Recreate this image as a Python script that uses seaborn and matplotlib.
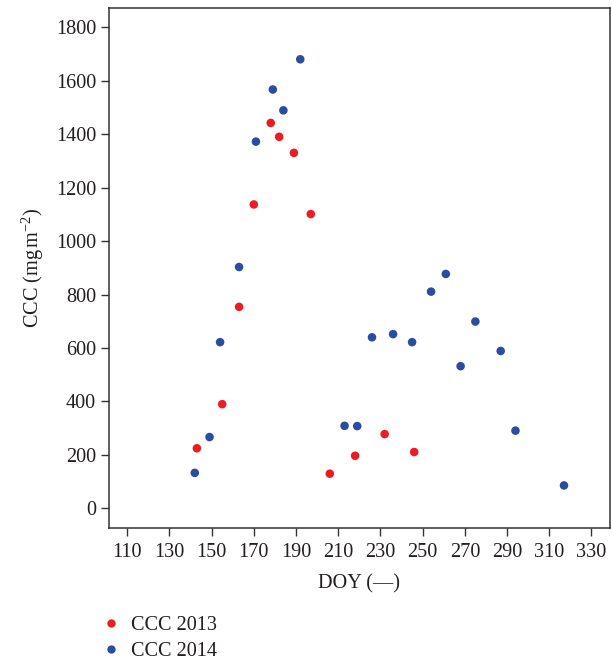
import matplotlib
matplotlib.use("Agg")
import matplotlib.pyplot as plt
import seaborn as sns
import pandas as pd
from matplotlib.lines import Line2D

# Data
doy_2013 = [143, 155, 163, 170, 178, 182, 189, 197, 206, 218, 232, 246]
ccc_2013 = [225, 390, 754, 1137, 1442, 1390, 1330, 1101, 130, 197, 278, 211]
doy_2014 = [142, 149, 154, 163, 171, 179, 184, 192, 213, 219, 226, 236, 245,
            254, 261, 268, 275, 287, 294, 317]
ccc_2014 = [133, 267, 622, 903, 1372, 1567, 1489, 1680, 309, 308, 640, 652, 622,
            811, 877, 532, 699, 589, 291, 86]
series_names = ["CCC 2013", "CCC 2014"]
x_ticks = [110, 130, 150, 170, 190, 210, 230, 250, 270, 290, 310, 330]
y_ticks = [0, 200, 400, 600, 800, 1000, 1200, 1400, 1600, 1800]

df = pd.concat([
    pd.DataFrame({"DOY": doy_2013, "CCC": ccc_2013, "series": series_names[0]}),
    pd.DataFrame({"DOY": doy_2014, "CCC": ccc_2014, "series": series_names[1]}),
], ignore_index=True)

sns.set_theme(style="white")
plt.rcParams["font.family"] = ["Liberation Serif", "DejaVu Serif"]
plt.rcParams["mathtext.fontset"] = "custom"
plt.rcParams["mathtext.rm"] = "Liberation Serif"
plt.rcParams["mathtext.it"] = "Liberation Serif:italic"

text_color = "#231f20"
palette = {"CCC 2013": "#ec1c24", "CCC 2014": "#2b4c9f"}

fig = plt.figure(figsize=(6.12, 6.63), dpi=100)
ax = fig.add_axes([0.1776, 0.2041, 0.8191, 0.7839])

sns.scatterplot(data=df, x="DOY", y="CCC", hue="series", palette=palette,
                s=38, linewidth=0, ax=ax, legend=False)

ax.set_xlim(101.2, 338.8)
ax.set_ylim(-72, 1872)
ax.set_xticks(x_ticks)
ax.set_yticks(y_ticks)
ax.tick_params(axis="both", direction="out", length=6, width=1,
               color="#333333", labelsize=14.6, labelcolor=text_color)
ax.tick_params(axis="x", pad=5)
ax.tick_params(axis="y", pad=3)
ax.tick_params(left=True, bottom=True)
for sp in ax.spines.values():
    sp.set_visible(True)
    sp.set_color("#333333")
    sp.set_linewidth(1.1)

ax.set_xlabel("DOY (—)", fontsize=14.6, color=text_color, labelpad=9)
ax.set_ylabel(r"CCC (mg$\,$m$^{-2}$)", fontsize=14.6, color=text_color, labelpad=7)

handles = [Line2D([], [], marker="o", linestyle="none", markersize=6,
                  markerfacecolor=palette[n], markeredgewidth=0) for n in series_names]
fig.legend(handles, series_names, loc="upper left",
           bbox_to_anchor=(0.155, 0.083), frameon=False,
           fontsize=14.6, handlelength=0.8, handletextpad=0.6,
           labelspacing=0.32, borderaxespad=0, labelcolor=text_color,
           bbox_transform=fig.transFigure)

fig.savefig("out.png", dpi=100)
